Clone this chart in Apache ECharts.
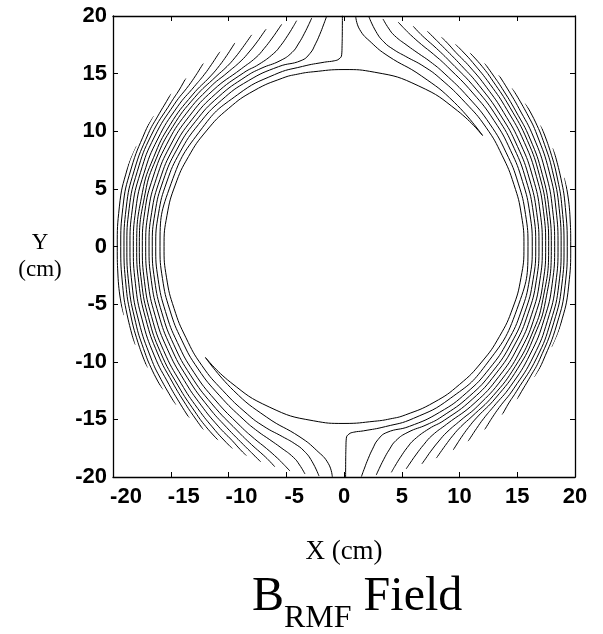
<!DOCTYPE html>
<html><head><meta charset="utf-8">
<script src="https://cdn.jsdelivr.net/npm/echarts@6/dist/echarts.min.js"></script>
<style>html,body{margin:0;padding:0;background:#fff}#c{width:603px;height:634px}</style>
</head><body><div id="c"></div>
<script>
// Axis ranges / tick labels
const xRange = [-20, 20];
const yRange = [-20, 20];
const tickStep = 5;
const titleMain = 'B';
const titleSub = 'RMF';
const titleRest = ' Field';
const xName = 'X (cm)';
const yNameLines = ['Y', '(cm)'];

// Contour lines, each point = [radius (cm), angle (deg, counter-clockwise from +X)]
// Left family
const lineB = [[19.97,87.1],[18.85,85.9],[17.82,82.4],[16.93,77.0],[16.22,65.6],[15.71,52.4],[15.37,38.7]];
const lineA = [[15.37,38.7],[15.32,50],[15.33,65],[15.32,80],[15.32,90],[15.36,100],[15.45,105],[15.52,110],[15.58,120],[15.58,130],[15.56,140],[15.55,150],[15.55,160],[15.56,170],[15.58,180],[15.6,190],[15.66,200],[15.8,210],[16.05,220],[16.3,230],[16.75,240],[17.05,246],[17.3,252],[17.6,256],[18.05,259],[18.8,261.5],[20,263.8]];
const lineV = [[20,90.4],[18.6,90.45],[17.4,90.55],[16.6,90.7],[16.25,91.5],[16.1,93],[16.05,96],[16.0,103],[16.05,112],[16.05,125],[16.0,140],[15.93,160],[15.93,180],[15.96,190],[16.05,200],[16.22,210],[16.49,220],[16.81,230],[17.33,240],[17.66,245],[17.92,249],[18.25,252.6],[18.77,256.5],[19.3,258.5],[20,260.3]];
const line2 = [[20,94.3],[19.26,95.3],[18.49,96.5],[17.72,98],[16.97,100],[16.52,103],[16.57,110],[16.57,120],[16.52,130],[16.44,140],[16.38,150],[16.33,160],[16.31,170],[16.3,180],[16.34,190],[16.45,200],[16.65,210],[16.96,220],[17.35,230],[17.95,240],[18.36,245],[18.73,249],[19.22,252.6],[19.57,254.5],[20,256.5]];
const line3 = [[20,98],[19.47,99],[18.78,100.5],[18.04,102.5],[17.39,105],[17.01,109],[17.01,115],[16.99,120],[16.91,130],[16.81,140],[16.73,150],[16.66,160],[16.62,170],[16.6,180],[16.65,190],[16.78,200],[17.01,210],[17.34,220],[17.79,230],[18.44,240],[18.93,245],[19.38,249],[19.69,251],[20,252.6]];
const line4 = [[20,101.8],[19.54,103],[18.89,105],[18.24,107.5],[17.79,110],[17.41,115],[17.37,120],[17.27,130],[17.15,140],[17.05,150],[16.96,160],[16.91,170],[16.88,180],[16.94,190],[17.09,200],[17.34,210],[17.69,220],[18.2,230],[18.67,237],[19.23,243],[19.72,247],[20,248.9]];
const line5 = [[20,105.6],[19.6,107],[19.09,109],[18.48,112],[18.05,115],[17.77,120],[17.65,130],[17.51,140],[17.39,150],[17.28,160],[17.21,170],[17.17,180],[17.24,190],[17.41,200],[17.68,210],[18.05,220],[18.49,228],[18.99,235],[19.39,240],[19.75,243],[20,245.1]];
const line6 = [[20,109.7],[19.69,111],[19.25,113],[18.74,116],[18.38,119],[18.12,124],[18.02,130],[17.86,140],[17.72,150],[17.59,160],[17.51,170],[17.46,180],[17.54,190],[17.73,200],[18.03,210],[18.42,220],[18.9,228],[19.44,235],[19.75,238.5],[20,241.2]];
const line7 = [[20,113.55],[19.7,115],[19.33,117],[18.88,120],[18.59,123],[18.42,127],[18.27,135],[18.1,145],[17.95,155],[17.82,165],[17.72,180],[17.8,190],[18.01,200],[18.34,210],[18.75,220],[19.27,228],[19.65,232.5],[20,237]];
const line8 = [[20,118.2],[19.75,119.5],[19.41,121.5],[19.02,124.5],[18.74,128],[18.56,135],[18.38,145],[18.2,155],[18.07,165],[17.95,180],[18.04,190],[18.27,200],[18.61,210],[18.94,218.3],[19.36,225],[19.67,229],[20,232.5]];
const line9 = [[20,122.5],[19.77,124],[19.5,126],[19.19,129],[18.97,133],[18.82,140],[18.62,150],[18.44,160],[18.31,170],[18.24,180],[18.34,190],[18.59,200],[18.95,210],[19.3,218.3],[19.62,223.3],[20,227.9]];
const line10 = [[20,127.5],[19.81,129],[19.59,131],[19.36,134],[19.17,140],[18.96,150],[18.75,160],[18.61,170],[18.53,180],[18.64,190],[18.91,200],[19.3,210],[19.58,216],[20,223.3]];
const line11 = [[20,133.2],[19.86,134.5],[19.68,136.5],[19.5,140],[19.27,150],[19.04,160],[18.89,170],[18.8,180],[18.92,190],[19.2,200],[19.48,207],[19.77,213],[20,218.3]];
const line12 = [[20,138.6],[19.89,140],[19.68,145],[19.56,150],[19.32,160],[19.15,170],[19.05,180],[19.17,190],[19.38,197.3],[19.68,205],[20,211.6]];
const line13 = [[20,145.6],[19.88,150],[19.62,160],[19.44,170],[19.33,180],[19.46,190],[19.68,197.3],[20,205.2]];
const line14 = [[20,154.2],[19.94,160],[19.75,170],[19.63,180],[19.75,188],[20,197.3]];

// Right family
const lineBr = [[19.97,267.1],[18.85,265.9],[17.82,262.4],[16.93,257.0],[16.22,245.6],[15.71,232.4],[15.37,218.7]];
const lineAr = [[15.37,218.7],[15.32,230],[15.33,245],[15.32,260],[15.32,270],[15.36,280],[15.45,285],[15.52,290],[15.58,300],[15.58,310],[15.56,320],[15.55,330],[15.55,340],[15.56,350],[15.58,360],[15.6,370],[15.66,380],[15.8,390],[16.05,400],[16.3,410],[16.75,420],[17.05,426],[17.3,432],[17.6,436],[18.05,439],[18.8,441.5],[20,443.8]];
const lineVr = [[20,270.4],[18.6,270.45],[17.4,270.55],[16.6,270.7],[16.25,271.5],[16.1,273],[16.05,276],[16.0,283],[16.05,292],[16.05,305],[16.0,320],[15.93,340],[15.93,360],[15.96,370],[16.05,380],[16.22,390],[16.49,400],[16.81,410],[17.33,420],[17.66,425],[17.92,429],[18.25,432.6],[18.77,436.5],[19.3,438.5],[20,440.3]];
const line2r = [[20,274.3],[19.26,275.3],[18.49,276.5],[17.72,278],[16.97,280],[16.52,283],[16.57,290],[16.57,300],[16.52,310],[16.44,320],[16.38,330],[16.33,340],[16.31,350],[16.3,360],[16.34,370],[16.45,380],[16.65,390],[16.96,400],[17.35,410],[17.95,420],[18.36,425],[18.73,429],[19.22,432.6],[19.57,434.5],[20,436.5]];
const line3r = [[20,278],[19.47,279],[18.78,280.5],[18.04,282.5],[17.39,285],[17.01,289],[17.01,295],[16.99,300],[16.91,310],[16.81,320],[16.73,330],[16.66,340],[16.62,350],[16.6,360],[16.65,370],[16.78,380],[17.01,390],[17.34,400],[17.79,410],[18.44,420],[18.93,425],[19.38,429],[19.69,431],[20,432.6]];
const line4r = [[20,281.8],[19.54,283],[18.89,285],[18.24,287.5],[17.79,290],[17.41,295],[17.37,300],[17.27,310],[17.15,320],[17.05,330],[16.96,340],[16.91,350],[16.88,360],[16.94,370],[17.09,380],[17.34,390],[17.69,400],[18.2,410],[18.67,417],[19.23,423],[19.72,427],[20,428.9]];
const line5r = [[20,285.6],[19.6,287],[19.09,289],[18.48,292],[18.05,295],[17.77,300],[17.65,310],[17.51,320],[17.39,330],[17.28,340],[17.21,350],[17.17,360],[17.24,370],[17.41,380],[17.68,390],[18.05,400],[18.49,408],[18.99,415],[19.39,420],[19.75,423],[20,425.1]];
const line6r = [[20,289.7],[19.69,291],[19.25,293],[18.74,296],[18.38,299],[18.12,304],[18.02,310],[17.86,320],[17.72,330],[17.59,340],[17.51,350],[17.46,360],[17.54,370],[17.73,380],[18.03,390],[18.42,400],[18.9,408],[19.44,415],[19.75,418.5],[20,421.2]];
const line7r = [[20,293.55],[19.7,295],[19.33,297],[18.88,300],[18.59,303],[18.42,307],[18.27,315],[18.1,325],[17.95,335],[17.82,345],[17.72,360],[17.8,370],[18.01,380],[18.34,390],[18.75,400],[19.27,408],[19.65,412.5],[20,417]];
const line8r = [[20,298.2],[19.75,299.5],[19.41,301.5],[19.02,304.5],[18.74,308],[18.56,315],[18.38,325],[18.2,335],[18.07,345],[17.95,360],[18.04,370],[18.27,380],[18.61,390],[18.94,398.3],[19.36,405],[19.67,409],[20,412.5]];
const line9r = [[20,302.5],[19.77,304],[19.5,306],[19.19,309],[18.97,313],[18.82,320],[18.62,330],[18.44,340],[18.31,350],[18.24,360],[18.34,370],[18.59,380],[18.95,390],[19.3,398.3],[19.62,403.3],[20,407.9]];
const line10r = [[20,307.5],[19.81,309],[19.59,311],[19.36,314],[19.17,320],[18.96,330],[18.75,340],[18.61,350],[18.53,360],[18.64,370],[18.91,380],[19.3,390],[19.58,396],[20,403.3]];
const line11r = [[20,313.2],[19.86,314.5],[19.68,316.5],[19.5,320],[19.27,330],[19.04,340],[18.89,350],[18.8,360],[18.92,370],[19.2,380],[19.48,387],[19.77,393],[20,398.3]];
const line12r = [[20,318.6],[19.89,320],[19.68,325],[19.56,330],[19.32,340],[19.15,350],[19.05,360],[19.17,370],[19.38,377.3],[19.68,385],[20,391.6]];
const line13r = [[20,325.6],[19.88,330],[19.62,340],[19.44,350],[19.33,360],[19.46,370],[19.68,377.3],[20,385.2]];
const line14r = [[20,334.2],[19.94,340],[19.75,350],[19.63,360],[19.75,368],[20,377.3]];

const contourLines = [lineB, lineA, lineV, line2, line3, line4, line5, line6, line7, line8, line9, line10, line11, line12, line13, line14,
  lineBr, lineAr, lineVr, line2r, line3r, line4r, line5r, line6r, line7r, line8r, line9r, line10r, line11r, line12r, line13r, line14r];

const chart = echarts.init(document.getElementById('c'), null, {renderer: 'canvas'});

const axisLineStyle = {color: '#000', width: 1.3};
const tickFont = {fontFamily: 'Liberation Sans', fontWeight: 'bold', fontSize: 22, color: '#000'};

const series = contourLines.map(function (d) {
  return {
    type: 'line', coordinateSystem: 'polar', polarIndex: 0, data: d,
    smooth: 0.5, showSymbol: false, symbol: 'none', clip: false, silent: true,
    lineStyle: {color: '#000', width: 1}, animation: false
  };
});

function xLabelFormatter(v) {
  if (v <= -10) return '{n2|' + v + '}';
  if (v < 0) return '{n1|' + v + '}';
  return '{p|' + v + '}';
}

const option = {
  animation: false,
  backgroundColor: '#fff',
  title: {
    text: '{b|' + titleMain + '}{s|' + titleSub + '}{b|' + titleRest + '}',
    left: 252, top: 573, padding: 0,
    textStyle: {
      fontWeight: 'normal',
      rich: {
        b: {fontFamily: 'Liberation Serif', fontWeight: 'normal', fontSize: 48, color: '#000', verticalAlign: 'bottom', padding: [0, 0, 14, 0]},
        s: {fontFamily: 'Liberation Serif', fontWeight: 'normal', fontSize: 32, color: '#000', verticalAlign: 'bottom'}
      }
    }
  },
  grid: {left: 113, top: 16, width: 462, height: 461, containLabel: false, outerBoundsMode: 'none'},
  xAxis: [
    {type: 'value', min: xRange[0], max: xRange[1], interval: tickStep, position: 'bottom',
     name: xName, nameLocation: 'middle', nameGap: 75,
     nameTextStyle: {fontFamily: 'Liberation Serif', fontSize: 27, color: '#000', verticalAlign: 'middle'},
     axisLine: {show: true, onZero: false, lineStyle: axisLineStyle},
     axisTick: {show: true, inside: true, length: 5, lineStyle: {color: '#000', width: 1}},
     axisLabel: Object.assign({margin: 9, formatter: xLabelFormatter, rich: {
       n2: Object.assign({padding: [0, 0, 0, 26]}, tickFont),
       n1: Object.assign({padding: [0, 0, 0, 16]}, tickFont),
       p: Object.assign({}, tickFont)
     }}, tickFont),
     splitLine: {show: false}},
    {type: 'value', min: xRange[0], max: xRange[1], interval: tickStep, position: 'top',
     axisLine: {show: true, onZero: false, lineStyle: axisLineStyle},
     axisTick: {show: true, inside: true, length: 5, lineStyle: {color: '#000', width: 1}},
     axisLabel: {show: false}, splitLine: {show: false}}
  ],
  yAxis: [
    {type: 'value', min: yRange[0], max: yRange[1], interval: tickStep, position: 'left',
     name: '{g| }\n{a|' + yNameLines[0] + '}\n{a|' + yNameLines[1] + '}',
     nameLocation: 'middle', nameGap: 73, nameRotate: 0,
     nameTextStyle: {align: 'center', verticalAlign: 'middle', rich: {
       g: {fontFamily: 'Liberation Serif', fontSize: 10, lineHeight: 20, color: '#000'},
       a: {fontFamily: 'Liberation Serif', fontSize: 23, lineHeight: 27, color: '#000', align: 'center'}
     }},
     axisLine: {show: true, onZero: false, lineStyle: axisLineStyle},
     axisTick: {show: true, inside: true, length: 5, lineStyle: {color: '#000', width: 1}},
     axisLabel: Object.assign({margin: 6}, tickFont),
     splitLine: {show: false}},
    {type: 'value', min: yRange[0], max: yRange[1], interval: tickStep, position: 'right',
     axisLine: {show: true, onZero: false, lineStyle: axisLineStyle},
     axisTick: {show: true, inside: true, length: 5, lineStyle: {color: '#000', width: 1}},
     axisLabel: {show: false}, splitLine: {show: false}}
  ],
  polar: {center: [344, 246.5], radius: 231},
  angleAxis: {type: 'value', min: 0, max: 360, startAngle: 0, clockwise: false, show: false},
  radiusAxis: {type: 'value', min: 0, max: 20, show: false},
  series: series
};
chart.setOption(option);
</script>
</body></html>
